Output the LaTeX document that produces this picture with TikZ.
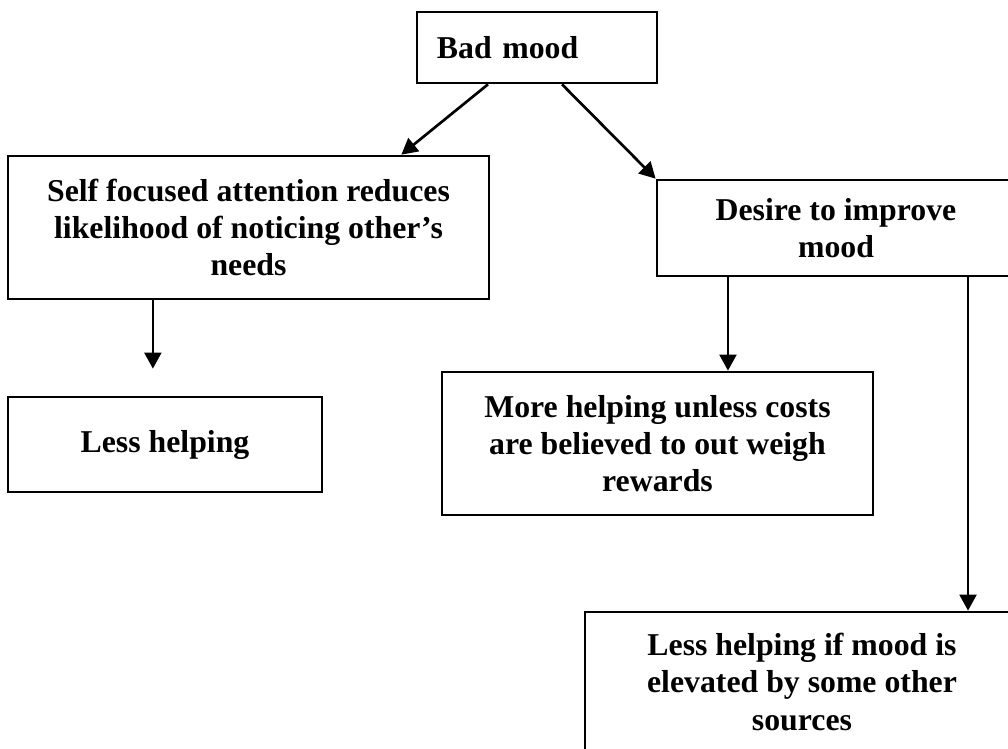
\documentclass[tikz,border=0pt]{standalone}
\usepackage{fontspec}
\setmainfont{Liberation Serif}
\usetikzlibrary{arrows.meta,positioning}

\begin{document}
\begin{tikzpicture}[
  x=0.025cm, y=-0.025cm,
  every node/.style={font=\fontsize{22.6}{26.4}\selectfont\bfseries},
  box/.style={rectangle, draw, line width=1.9pt, align=center, inner sep=0pt},
  arr/.style={-{Triangle[length=0.4cm,width=0.42cm]}, line width=1.9pt},
]
\useasboundingbox (0,0) rectangle (1008,749);

\node[box, minimum width=6cm, minimum height=1.775cm, text width=5cm, align=left]
  (bad) at (537,47.5) {Bad mood};
\node[box, minimum width=12.025cm, minimum height=3.575cm]
  (self) at (248.5,227.5) {Self focused attention reduces\\likelihood of noticing other's\\needs};
\node[box, minimum width=8.95cm, minimum height=2.4cm]
  (desire) at (836,228) {Desire to improve\\mood};
\node[box, minimum width=7.85cm, minimum height=2.375cm]
  (lessa) at (165,444.5) {Less helping};
\node[box, minimum width=10.775cm, minimum height=3.575cm]
  (more) at (657.5,443.5) {More helping unless costs\\are believed to out weigh\\rewards};
\node[box, minimum width=10.85cm, minimum height=3.5cm]
  (lessb) at (802,682) {Less helping if mood is\\elevated by some other\\sources};

\draw[arr] ([xshift=-1.225cm]bad.south) -- ([xshift=-2.225cm]self.north east);
\draw[arr] ([xshift=0.625cm]bad.south) -- (desire.north west);
\draw[arr, shorten >=0.675cm] ([xshift=-2.39cm]self.south) -- ([xshift=-2.39cm]self.south |- lessa.north);
\draw[arr] ([xshift=-2.7cm]desire.south) -- ([xshift=-2.7cm]desire.south |- more.north);
\draw[arr] ([xshift=3.3cm]desire.south) -- ([xshift=3.3cm]desire.south |- lessb.north);
\end{tikzpicture}
\end{document}
